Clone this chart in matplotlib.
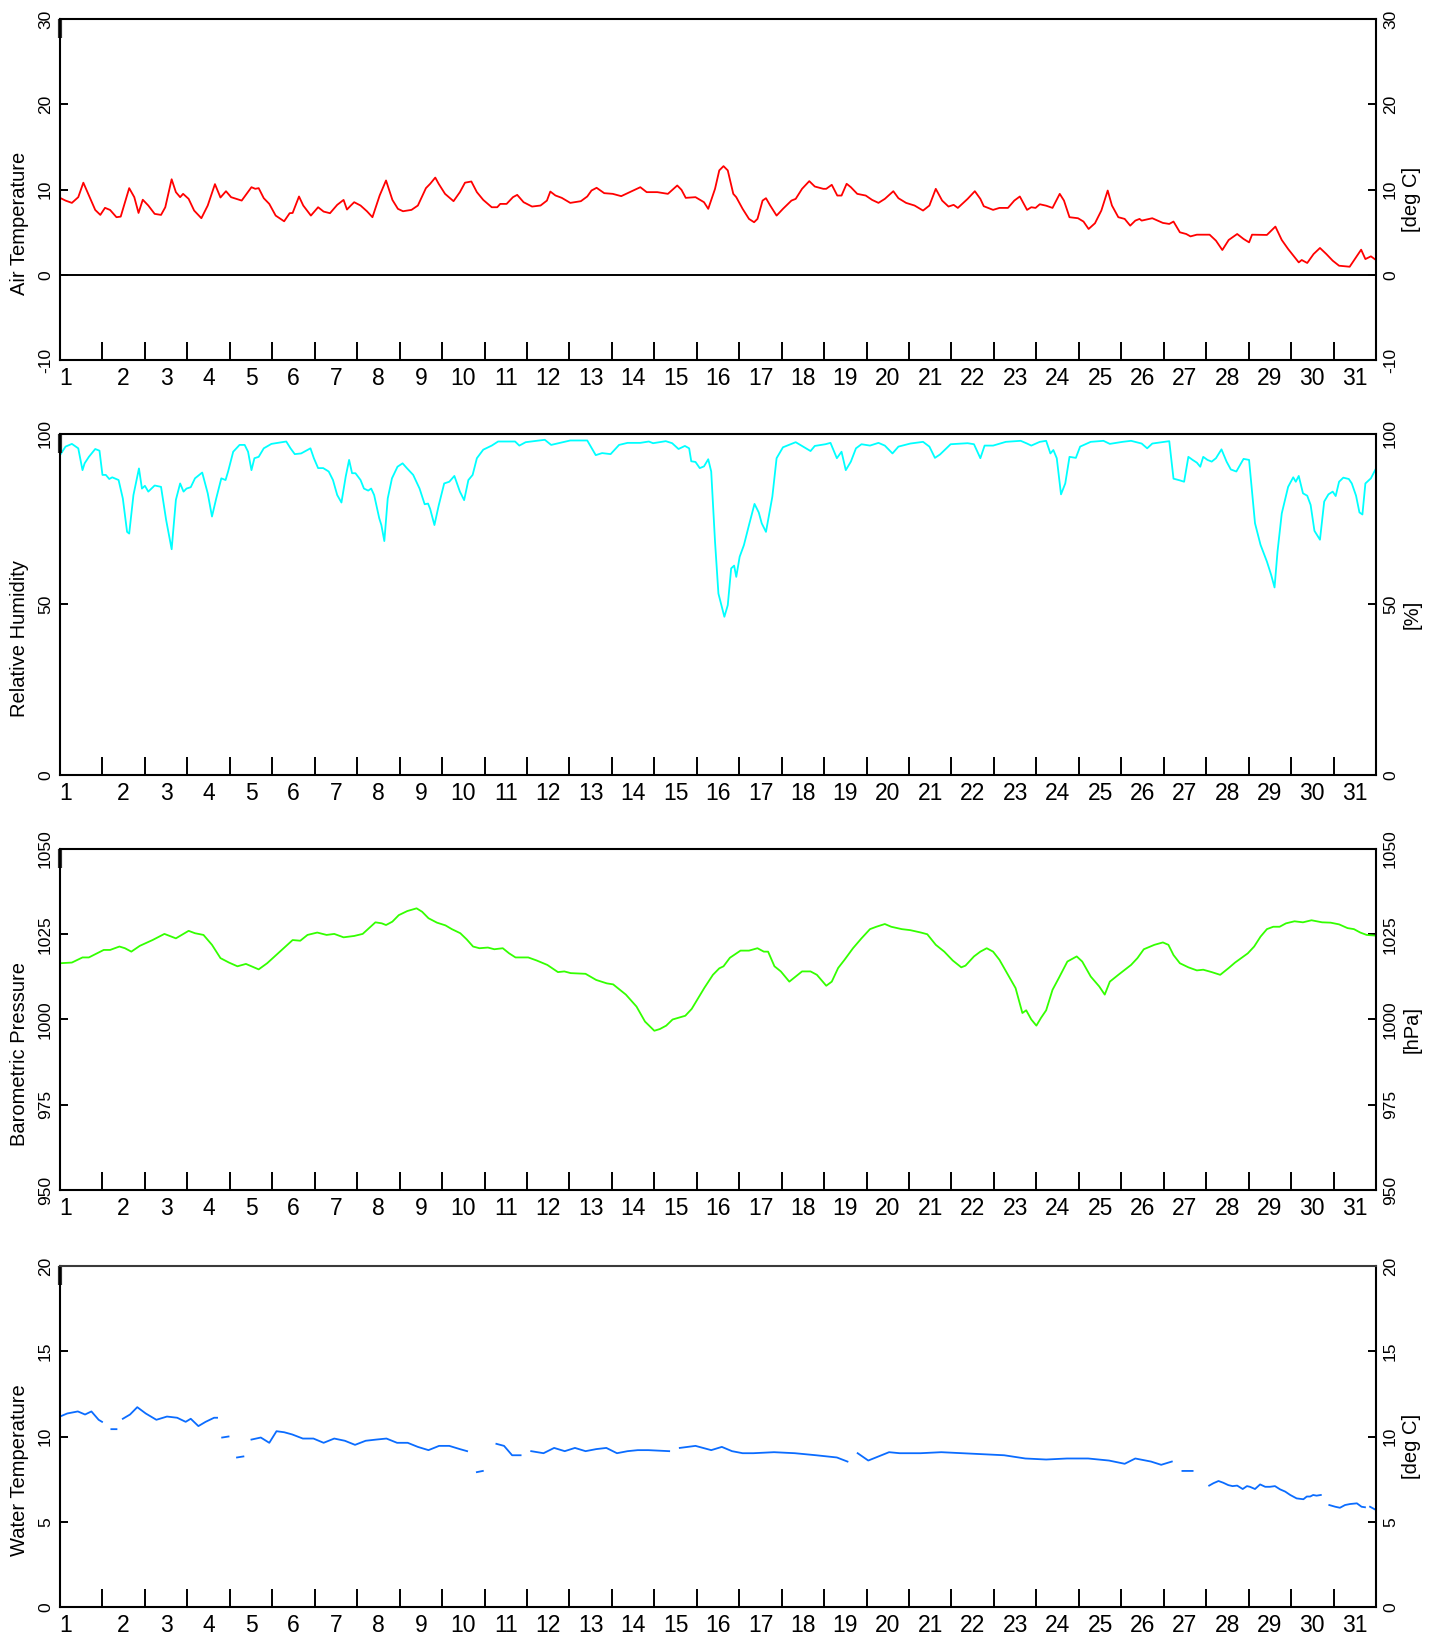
import numpy as np
import matplotlib
matplotlib.use("Agg")
import matplotlib.pyplot as plt

plt.rcParams['font.family'] = ['Liberation Sans', 'DejaVu Sans']
plt.rcParams['axes.unicode_minus'] = False

nan = np.nan

# ---------------- data (day of month offset, value) ----------------
air_day = [0.00, 0.13, 0.28, 0.43, 0.55, 0.68, 0.83, 0.95, 1.06, 1.18, 1.33, 1.43, 1.63, 1.75, 1.85,
           1.95, 2.08, 2.23, 2.38, 2.48, 2.63, 2.73, 2.83, 2.90, 3.03, 3.16, 3.33, 3.48, 3.65, 3.78,
           3.91, 4.03, 4.28, 4.51, 4.60, 4.68, 4.80, 4.93, 5.08, 5.28, 5.41, 5.48, 5.63, 5.73, 5.91,
           6.08, 6.21, 6.36, 6.53, 6.68, 6.76, 6.85, 6.93, 7.08, 7.23, 7.36, 7.53, 7.68, 7.83, 7.96,
           8.08, 8.28, 8.43, 8.62, 8.72, 8.84, 8.92, 9.07, 9.27, 9.42, 9.54, 9.69, 9.82, 9.97, 10.17,
           10.30, 10.37, 10.52, 10.67, 10.77, 10.92, 11.12, 11.32, 11.47, 11.55, 11.67, 11.82, 12.02,
           12.27, 12.42, 12.52, 12.64, 12.82, 13.02, 13.22, 13.47, 13.67, 13.82, 14.07, 14.32, 14.54,
           14.64, 14.74, 14.97, 15.17, 15.27,
           15.43, 15.53, 15.63, 15.73, 15.86, 15.93, 16.08, 16.23, 16.35, 16.43, 16.55, 16.63, 16.73,
           16.88, 17.03, 17.23, 17.33, 17.48, 17.65, 17.78, 17.98, 18.05, 18.18, 18.31, 18.41, 18.53,
           18.63, 18.78, 18.98, 19.13, 19.28, 19.43, 19.63, 19.75, 19.93, 20.13, 20.33, 20.48, 20.63,
           20.78, 20.93, 21.05, 21.15, 21.38, 21.55, 21.68, 21.76, 21.98, 22.13, 22.33, 22.48, 22.61,
           22.78, 22.88, 22.98, 23.08, 23.23, 23.38, 23.55, 23.65, 23.78, 23.98, 24.11, 24.23, 24.38,
           24.53, 24.68, 24.78, 24.93, 25.08, 25.21, 25.33, 25.43, 25.48, 25.73, 25.98, 26.13, 26.23,
           26.38, 26.53, 26.63, 26.78, 27.08, 27.23, 27.38, 27.53, 27.73, 27.88, 28.01, 28.08, 28.43,
           28.63, 28.78, 28.93, 29.18, 29.25, 29.38, 29.53, 29.68, 29.83, 29.98, 30.13, 30.38, 30.53,
           30.65, 30.75, 30.88, 31.00]
air_temp = [9.02, 8.70, 8.43, 9.10, 10.80, 9.30, 7.60, 7.02, 7.85, 7.60, 6.75, 6.82, 10.16, 9.10, 7.25,
            8.80, 8.12, 7.14, 7.02, 7.92, 11.20, 9.69, 9.10, 9.49, 8.90, 7.53, 6.63, 8.12, 10.63, 9.06,
            9.80, 9.10, 8.70, 10.27, 10.08, 10.16, 8.98, 8.31, 6.94, 6.27, 7.22, 7.25, 9.18, 8.12, 6.94,
            7.92, 7.41, 7.22, 8.20, 8.78, 7.65, 8.12, 8.51, 8.12, 7.45, 6.75, 9.30, 11.06, 8.78, 7.73,
            7.45, 7.61, 8.12, 10.16, 10.67, 11.40, 10.67, 9.49, 8.63, 9.69, 10.80, 10.94, 9.69, 8.78, 7.92,
            7.92, 8.31, 8.31, 9.10, 9.37, 8.51, 8.00, 8.12, 8.70, 9.76, 9.30, 9.02, 8.43,
            8.63, 9.18, 9.88, 10.20, 9.57, 9.49, 9.22, 9.80, 10.27, 9.69, 9.69, 9.49, 10.47,
            9.96, 9.02, 9.10, 8.51, 7.73,
            10.08, 12.24, 12.74, 12.24, 9.49, 9.10, 7.73, 6.55, 6.16, 6.55, 8.70, 8.98, 8.12,
            6.94, 7.73, 8.70, 8.90, 10.08, 10.98, 10.35, 10.08, 10.08, 10.55, 9.29, 9.29, 10.67,
            10.27, 9.49, 9.29, 8.78, 8.43, 8.90, 9.80, 8.98, 8.43, 8.12, 7.53, 8.12, 10.08,
            8.70, 8.00, 8.20, 7.84, 8.90, 9.80, 8.90, 8.04, 7.61, 7.84, 7.84, 8.70, 9.18,
            7.61, 7.92, 7.84, 8.27, 8.10, 7.84, 9.49, 8.70, 6.75, 6.63, 6.24, 5.37, 6.04,
            7.53, 9.88, 8.12, 6.75, 6.55, 5.76, 6.35, 6.55, 6.35, 6.63, 6.08, 5.96, 6.24,
            4.98, 4.78, 4.50, 4.70, 4.70, 4.00, 2.90, 4.08, 4.78, 4.20, 3.80, 4.70, 4.67,
            5.65, 4.08, 3.02, 1.45, 1.73, 1.38, 2.43, 3.14, 2.43, 1.65, 1.06, 0.94, 2.04,
            2.94, 1.84, 2.16, 1.73]

rh_day = [0.00, 0.13, 0.28, 0.43, 0.53, 0.58, 0.68, 0.83, 0.93, 1.00, 1.08, 1.16, 1.23, 1.38, 1.48,
          1.58, 1.63, 1.73, 1.86, 1.93, 2.00, 2.08, 2.23, 2.38, 2.50, 2.63, 2.73, 2.83, 2.91, 2.98,
          3.08, 3.18, 3.35, 3.48, 3.58, 3.68, 3.80, 3.90, 3.96, 4.08, 4.23, 4.35, 4.43, 4.51, 4.58,
          4.68, 4.80, 4.98, 5.33, 5.43, 5.53, 5.68, 5.90, 5.98, 6.08, 6.20, 6.33, 6.43, 6.53, 6.63,
          6.73, 6.81, 6.88, 6.96, 7.08, 7.16, 7.26, 7.33, 7.40, 7.52, 7.57, 7.64, 7.72, 7.82, 7.95,
          8.07, 8.17, 8.32, 8.47, 8.59, 8.67, 8.72, 8.82, 8.92, 9.05, 9.17, 9.29, 9.42, 9.52, 9.62,
          9.72, 9.82, 9.97, 10.17, 10.32, 10.72, 10.82, 10.97, 11.42, 11.57, 12.02, 12.42, 12.62,
          12.77, 12.97, 13.17, 13.37, 13.67, 13.87, 13.97, 14.27, 14.42, 14.57, 14.72, 14.82, 14.87,
          14.97, 15.07, 15.17, 15.27, 15.34,
          15.43, 15.51, 15.65, 15.73, 15.81, 15.88, 15.93, 16.01, 16.11, 16.23, 16.36, 16.46, 16.53,
          16.63, 16.78, 16.88, 17.03, 17.33, 17.53, 17.68, 17.78, 18.03, 18.15, 18.30, 18.41, 18.51,
          18.63, 18.75, 18.88, 19.08, 19.28, 19.43, 19.61, 19.75, 20.03, 20.33, 20.48, 20.61, 20.73,
          20.98, 21.38, 21.53, 21.68, 21.78, 21.98, 22.28, 22.63, 22.78, 22.88, 23.08, 23.23, 23.33,
          23.40, 23.48, 23.58, 23.68, 23.78, 23.93, 24.03, 24.28, 24.58, 24.73, 25.03, 25.23, 25.48,
          25.61, 25.73, 26.13, 26.23, 26.38, 26.48, 26.58, 26.68, 26.78, 26.86, 26.93, 27.03, 27.13,
          27.23, 27.36, 27.48, 27.58, 27.71, 27.88, 28.01, 28.08, 28.15, 28.28, 28.43, 28.53, 28.61,
          28.68, 28.78, 28.93, 29.05, 29.11, 29.18, 29.28, 29.38, 29.46, 29.55, 29.68, 29.78, 29.88,
          29.98, 30.05, 30.13, 30.23, 30.36, 30.43, 30.53, 30.61, 30.68, 30.75, 30.88, 31.00]
rh_val = [93.8, 96.3, 97.1, 95.8, 89.4, 91.4, 93.3, 95.6, 95.1, 88.0, 88.0, 86.8, 87.3, 86.5, 81.1,
          71.3, 70.8, 82.1, 89.9, 84.0, 84.8, 83.1, 84.9, 84.5, 74.8, 66.2, 80.7, 85.5, 83.1, 84.0,
          84.4, 87.0, 88.7, 82.6, 75.8, 81.1, 87.0, 86.5, 89.0, 94.8, 96.8, 96.8, 94.8, 89.4, 92.9,
          93.3, 95.8, 97.1, 97.8, 95.8, 94.1, 94.3, 95.8, 92.9, 90.0, 90.0, 89.0, 86.5, 82.1, 79.9,
          87.5, 92.4, 88.5, 88.5, 86.5, 84.0, 83.4, 84.0, 82.1, 75.3, 73.3, 68.6, 81.1, 87.0, 90.4,
          91.4, 90.0, 88.0, 84.0, 79.4, 79.6, 78.0, 73.3, 79.0, 85.5, 86.0, 87.7, 83.1, 80.6, 86.5,
          88.0, 92.9, 95.4, 96.6, 97.8, 97.8, 96.6, 97.6, 98.3, 96.8, 98.1, 98.1, 93.8,
          94.4, 94.1, 96.8, 97.4, 97.4, 97.8, 97.3, 97.9, 97.3, 95.6, 96.5, 95.8, 92.0,
          91.8, 90.0, 90.5, 92.6, 89.0,
          68.4, 53.2, 46.4, 49.8, 60.6, 61.4, 58.1, 64.0, 67.4, 73.3, 79.5, 77.0, 73.8,
          71.3, 81.6, 92.9, 96.1, 97.6, 96.1, 95.0, 96.5, 97.0, 97.4, 92.9, 94.8, 89.4,
          91.9, 95.8, 97.0, 96.6, 97.4, 96.6, 94.3, 96.3, 97.2, 97.7, 96.3, 93.0, 94.0,
          97.0, 97.3, 97.0, 92.9, 96.6, 96.6, 97.7, 98.0, 97.2, 96.6, 97.7, 98.0, 94.3,
          95.3, 92.9, 82.3, 85.5, 93.3, 93.0, 96.3, 97.7, 98.0, 97.1, 97.7, 98.0, 97.2,
          95.8, 97.2, 97.9, 86.9, 86.4, 86.0, 93.3, 92.4, 91.6, 90.4, 93.3, 92.4, 91.9,
          92.9, 95.5, 91.9, 89.6, 89.0, 92.7, 92.4, 83.1, 73.8, 67.5, 62.6, 58.7, 55.0,
          65.5, 76.7, 84.5, 87.3, 86.0, 87.7, 82.6, 81.9, 79.2, 71.6, 69.0, 80.2, 82.3,
          83.1, 81.8, 86.0, 87.2, 86.8, 85.5, 81.9, 77.0, 76.4, 85.5, 87.0, 89.9]

pres_day = [0.00, 0.28, 0.53, 0.68, 1.03, 1.18, 1.40, 1.53, 1.68, 1.88, 2.18, 2.46, 2.73, 3.03, 3.18,
            3.38, 3.58, 3.78, 3.98, 4.18, 4.38, 4.53, 4.68, 4.88, 5.18, 5.48, 5.66, 5.83, 6.06, 6.28,
            6.46, 6.68, 6.93, 7.13, 7.43, 7.58, 7.68, 7.83, 7.98, 8.18, 8.40, 8.53, 8.68, 8.88, 9.08,
            9.23, 9.43, 9.58, 9.73, 9.88, 10.08, 10.23, 10.43, 10.58, 10.73, 11.03, 11.23, 11.48,
            11.73, 11.88, 12.03, 12.38, 12.63, 12.88, 13.03, 13.33, 13.58, 13.78, 14.00, 14.13, 14.28,
            14.43, 14.73, 14.88, 15.18, 15.38,
            15.53, 15.63, 15.78, 16.03, 16.23, 16.43, 16.58, 16.68, 16.83, 16.98, 17.18, 17.33, 17.48,
            17.68, 17.83, 18.05, 18.18, 18.33, 18.48, 18.68, 18.88, 19.08, 19.23, 19.43, 19.58, 19.83,
            20.03, 20.28, 20.43, 20.63, 20.83, 21.03, 21.23, 21.33, 21.53, 21.68, 21.83, 21.98, 22.13,
            22.33, 22.51, 22.67, 22.76, 22.88, 23.00, 23.11, 23.23, 23.38, 23.53, 23.73, 23.95, 24.08,
            24.28, 24.48, 24.61, 24.73, 24.93, 25.23, 25.38, 25.53, 25.78, 25.98, 26.11, 26.23, 26.38,
            26.58, 26.78, 26.93, 27.13, 27.33, 27.53, 27.68, 27.98, 28.13, 28.28, 28.43, 28.58, 28.73,
            28.88, 29.08, 29.28, 29.48, 29.73, 29.93, 30.13, 30.33, 30.48, 30.63, 30.78, 31.00]
pres_val = [1016.5, 1016.7, 1018.2, 1018.2, 1020.4, 1020.4, 1021.4, 1020.9, 1019.9, 1021.6, 1023.3,
            1025.1, 1023.8, 1026.0, 1025.3, 1024.8, 1021.9, 1018.0, 1016.7, 1015.6, 1016.3, 1015.5,
            1014.7, 1016.5, 1019.9, 1023.3, 1023.1, 1024.8, 1025.5, 1024.8, 1025.1, 1024.1, 1024.5,
            1025.1, 1028.5, 1028.2, 1027.7, 1028.7, 1030.6, 1031.8, 1032.6, 1031.6, 1029.7, 1028.4,
            1027.6, 1026.5, 1025.3, 1023.5, 1021.4, 1020.9, 1021.1, 1020.6, 1020.9, 1019.4, 1018.2,
            1018.2, 1017.3, 1016.0, 1013.9, 1014.1, 1013.6, 1013.4, 1011.6, 1010.6, 1010.3, 1007.3,
            1003.8, 999.4, 996.7, 997.2, 998.2, 1000.0, 1001.1, 1003.1, 1009.3, 1013.1,
            1015.0, 1015.6, 1018.1, 1020.2, 1020.2, 1020.9, 1019.9, 1019.9, 1015.6, 1014.1, 1011.1,
            1012.6, 1014.1, 1014.1, 1013.1, 1009.9, 1011.1, 1015.1, 1017.5, 1020.9, 1023.8, 1026.5,
            1027.2, 1028.0, 1027.2, 1026.5, 1026.2, 1025.5, 1025.0, 1021.9, 1019.9, 1017.3, 1015.3,
            1015.8, 1018.5, 1019.9, 1020.9, 1019.9, 1017.5, 1013.1, 1009.2, 1001.9, 1002.7, 1000.0,
            998.2, 1000.5, 1002.7, 1008.7, 1012.2, 1017.0, 1018.5, 1017.0, 1012.6, 1009.7, 1007.3,
            1011.1, 1013.1, 1016.0, 1018.0, 1020.6, 1021.9, 1022.6, 1021.9, 1018.9, 1016.5, 1015.3,
            1014.4, 1014.6, 1013.9, 1013.1, 1015.1, 1016.7, 1019.4, 1021.4, 1024.3, 1026.5, 1027.2,
            1027.2, 1028.2, 1028.8, 1028.5, 1029.1, 1028.5, 1028.4, 1027.9, 1026.8, 1026.5, 1025.5,
            1024.8, 1024.6]

# water temperature (nan marks gaps in the record)
water_day = [0.00, 0.17, 0.42, 0.59, 0.74, 0.91, 0.99, nan,
             1.21, 1.33, nan,
             1.48, 1.65, 1.82, 2.02, 2.27, 2.52, 2.76, 2.96, 3.08, 3.26, 3.43, 3.63, 3.70, nan,
             3.82, 3.97, nan,
             4.17, 4.32, nan,
             4.51, 4.73, 4.93, 5.10, 5.28, 5.47, 5.72, 5.97, 6.21, 6.46, 6.71, 6.95, 7.20, 7.45, 7.69,
             7.94, 8.19, 8.43, 8.68, 8.93, 9.17, 9.42, 9.59, nan,
             9.82, 9.96, nan,
             10.28, 10.46, 10.65, 10.85, nan,
             11.10, 11.39, 11.64, 11.89, 12.13, 12.38, 12.63, 12.87, 13.12, 13.37, 13.61, 13.86, 14.35, nan,
             14.60, 14.97, 15.34, 15.59, 15.83, 16.08, 16.33, 16.82, 17.31, 17.81, 18.30, 18.55, nan,
             18.79, 19.04, 19.28, 19.53, 19.78, 20.27, 20.76, 21.26, 21.75, 22.24, 22.74, 23.23, 23.72,
             24.22, 24.71, 25.08, 25.33, 25.70, 25.94, 26.19, nan,
             26.44, 26.68, nan,
             27.07, 27.17, 27.29, 27.40, 27.52, 27.62, 27.73, 27.86, 27.96, 28.03, 28.15, 28.27, 28.39,
             28.50, 28.62, 28.74, 28.86, 28.98, 29.13, 29.29, 29.37, 29.45, 29.52, 29.60, 29.70, nan,
             29.90, 30.04, 30.15, 30.27, 30.39, 30.55, 30.66, 30.74, nan,
             30.86, 31.00]
water_temp = [11.17, 11.35, 11.47, 11.29, 11.47, 10.98, 10.86, nan,
              10.43, 10.43, nan,
              11.04, 11.29, 11.72, 11.35, 10.98, 11.17, 11.10, 10.86, 11.04, 10.61, 10.86, 11.10, 11.10, nan,
              9.94, 10.00, nan,
              8.77, 8.83, nan,
              9.82, 9.94, 9.63, 10.31, 10.25, 10.12, 9.88, 9.88, 9.63, 9.88, 9.75, 9.51, 9.75, 9.82, 9.88,
              9.63, 9.63, 9.39, 9.20, 9.45, 9.45, 9.26, 9.14, nan,
              7.91, 7.98, nan,
              9.57, 9.45, 8.90, 8.90, nan,
              9.14, 9.02, 9.33, 9.14, 9.33, 9.14, 9.26, 9.33, 9.02, 9.14, 9.20, 9.20, 9.14, nan,
              9.33, 9.45, 9.20, 9.39, 9.14, 9.02, 9.02, 9.08, 9.02, 8.90, 8.77, 8.53, nan,
              9.02, 8.59, 8.83, 9.08, 9.02, 9.02, 9.08, 9.02, 8.96, 8.90, 8.71, 8.65, 8.71,
              8.71, 8.59, 8.40, 8.71, 8.53, 8.34, 8.53, nan,
              7.98, 7.98, nan,
              7.12, 7.26, 7.39, 7.29, 7.15, 7.09, 7.12, 6.92, 7.09, 7.05, 6.92, 7.19, 7.05,
              7.05, 7.09, 6.90, 6.77, 6.57, 6.37, 6.32, 6.48, 6.48, 6.57, 6.53, 6.57, nan,
              5.98, 5.88, 5.82, 5.98, 6.04, 6.08, 5.88, 5.85, nan,
              5.88, 5.69]

day_labels = [str(d) for d in range(1, 32)]
label_pos = [0.13] + [d - 0.5 for d in range(2, 32)]
day_bounds = list(range(0, 31))

panels = [
    dict(x=air_day, y=air_temp, color='#FF0000', ylim=(-10, 30), yticks=[-10, 0, 10, 20, 30],
         left='Air Temperature', right='[deg C]', zero=True, topcol='black'),
    dict(x=rh_day, y=rh_val, color='#00FFFF', ylim=(0, 100), yticks=[0, 50, 100],
         left='Relative Humidity', right='[%]', zero=False, topcol='black'),
    dict(x=pres_day, y=pres_val, color='#33FF00', ylim=(950, 1050), yticks=[950, 975, 1000, 1025, 1050],
         left='Barometric Pressure', right='[hPa]', zero=False, topcol='black'),
    dict(x=water_day, y=water_temp, color='#0A6CFF', ylim=(0, 20), yticks=[0, 5, 10, 15, 20],
         left='Water Temperature', right='[deg C]', zero=False, topcol='#3a3a3a'),
]

W, H = 1431, 1639
fig = plt.figure(figsize=(W / 100, H / 100), dpi=100)
tops = [19, 434, 849, 1266]
ph = 341
for p, top in zip(panels, tops):
    ax = fig.add_axes([60 / W, 1 - (top + ph) / H, 1316 / W, ph / H])
    ax.plot(p['x'], p['y'], color=p['color'], lw=1.3)
    if p['zero']:
        ax.axhline(0, color='black', lw=1.4)
    ax.set_xlim(0, 31)
    ax.set_ylim(*p['ylim'])
    for s in ax.spines.values():
        s.set_linewidth(1.5)
        s.set_color('black')
    ax.spines['top'].set_color(p['topcol'])
    # short dark mark at the upper-left corner
    ax.plot([0, 0], [1, 0.945], transform=ax.transAxes, color='#333333', lw=3.0,
            solid_capstyle='butt', clip_on=False)
    ax.set_xticks(day_bounds)
    ax.set_xticklabels([])
    ax.set_xticks(label_pos, minor=True)
    ax.set_xticklabels(day_labels, minor=True)
    ax.tick_params(axis='x', which='major', direction='in', length=13, width=1.4, top=False)
    ax.tick_params(axis='x', which='minor', length=0, labelsize=16.5, pad=5)
    ax.set_yticks(p['yticks'])
    ax.set_yticklabels([str(v) for v in p['yticks']], rotation=90, va='center')
    ax.tick_params(axis='y', direction='in', length=6, width=1.4, left=True, right=True,
                   labelleft=True, labelright=True, labelsize=12.5, pad=5)
    ax.text(-0.0304, 0.40, p['left'], transform=ax.transAxes, rotation=90,
            ha='center', va='center', fontsize=14.5)
    ax.text(1.0272, 0.47, p['right'], transform=ax.transAxes, rotation=90,
            ha='center', va='center', fontsize=14.5)

fig.savefig('out.png', dpi=100)
